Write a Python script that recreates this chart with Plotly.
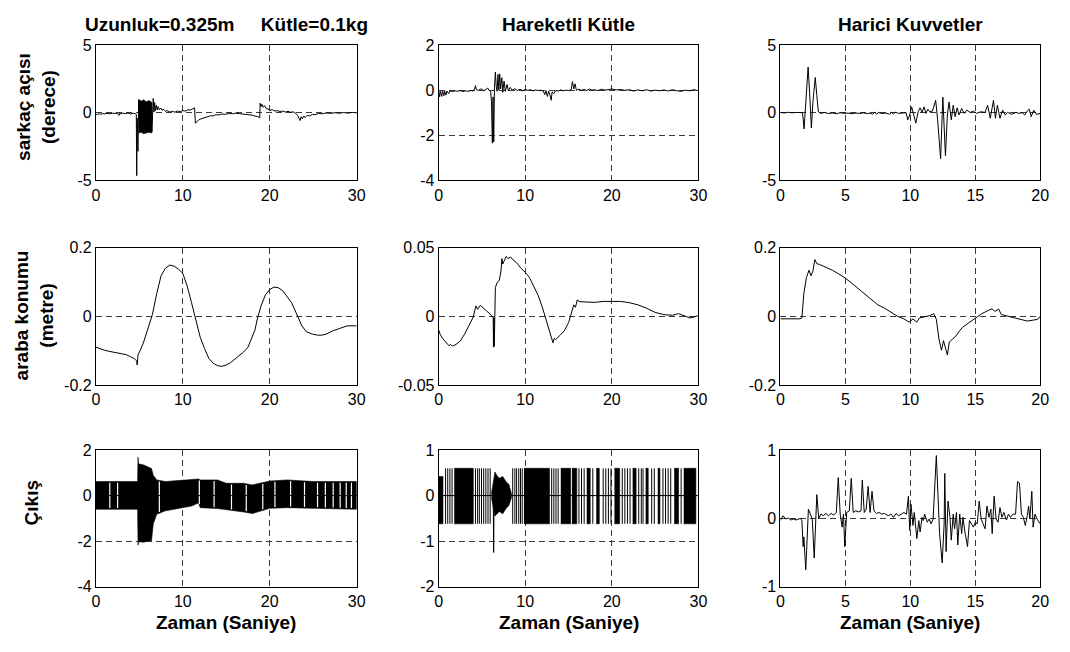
import numpy as np
import plotly.graph_objects as go

W, H = 1070, 652

# ---------------- row 1: sarkaç açısı (derece) ----------------
ang1_t = [0.0, 0.2, 0.4, 0.6, 0.8, 1.0, 1.3, 1.6, 1.9, 2.2, 2.5, 2.65, 2.75, 2.9, 3.1, 3.4, 3.7,
          4.0, 4.3, 4.55, 4.65, 4.70, 4.74, 4.80, 4.84, 4.88, 4.92,
          6.45, 6.50, 6.60, 6.68, 6.76, 6.85, 6.95, 7.05, 7.15, 7.30, 7.45, 7.60, 7.80,
          8.0, 8.2, 8.5, 8.8, 9.1, 9.4, 9.7, 10.0, 10.3, 10.6, 10.9, 11.2, 11.35, 11.45,
          11.6, 11.8, 12.0, 12.3, 12.6, 12.9, 13.2, 13.5, 13.8, 14.1, 14.5, 14.9, 15.3,
          15.7, 16.1, 16.5, 16.9, 17.3, 17.7, 18.0, 18.3, 18.6, 18.85, 18.9, 19.0, 19.1,
          19.25, 19.4, 19.6, 19.8, 20.0, 20.3, 20.6, 20.9, 21.2, 21.5, 21.8, 22.1, 22.4,
          22.7, 23.0, 23.2, 23.4, 23.5, 23.6, 23.75, 23.9, 24.1, 24.3, 24.6, 24.9, 25.2,
          25.6, 26.0, 26.5, 27.0, 27.5, 28.0, 28.5, 29.0, 29.5, 30.0]
ang1_v = [-0.10, -0.14, -0.08, -0.11, -0.06, -0.09, -0.05, -0.08, -0.04, -0.07, -0.05, -0.20, -0.02,
          -0.10, -0.03, -0.07, -0.02, -0.09, -0.04, -0.08, -0.12, -4.65, -0.40, -1.20, -2.85, 0.20, 0.95,
          -1.40, -0.20, 1.05, 0.05, 0.75, 0.15, 0.55, 0.20, 0.45, 0.22, 0.35, 0.18, 0.25,
          0.10, 0.15, 0.05, 0.10, 0.04, 0.12, 0.08, 0.15, 0.12, 0.22, 0.20, 0.32, 0.36, -0.78,
          -0.65, -0.55, -0.48, -0.42, -0.32, -0.30, -0.22, -0.24, -0.15, -0.17, -0.10, -0.12, -0.06,
          -0.08, -0.04, -0.07, -0.10, -0.08, -0.15, -0.18, -0.25, -0.28, -0.38, 0.70, 0.45, 0.62,
          0.40, 0.52, 0.30, 0.28, 0.18, 0.22, 0.12, 0.15, 0.08, 0.12, 0.05, 0.10, 0.03,
          0.06, -0.05, -0.20, -0.45, -0.58, -0.30, -0.45, -0.25, -0.35, -0.20, -0.24, -0.12, -0.15,
          -0.06, -0.08, -0.02, -0.05, 0.00, -0.04, 0.01, -0.03, 0.02, -0.01]
# chattering interval: upper / lower envelope
ang1_band_t = [4.92, 5.2, 5.5, 5.8, 6.1, 6.45]
ang1_band_hi = [1.00, 0.85, 0.95, 0.80, 0.90, 0.75]
ang1_band_lo = [-1.50, -1.45, -1.55, -1.50, -1.45, -1.50]

ang2_t = [0.0, 0.1, 0.2, 0.35, 0.45, 0.6, 0.7, 0.85, 0.95, 1.15, 1.3, 1.6, 1.9, 2.2, 2.5, 2.8, 3.1,
          3.4, 3.7, 4.0, 4.15, 4.25, 4.35, 4.6, 4.9, 5.2, 5.5, 5.65, 5.8, 6.0, 6.1, 6.2, 6.28,
          6.36, 6.44, 6.55, 6.65, 6.75, 6.85, 6.95, 7.05, 7.15, 7.3, 7.4, 7.55, 7.7, 7.9, 8.05,
          8.25, 8.5, 8.8, 9.1, 9.4, 9.7, 10.0, 10.3, 10.6, 10.9, 11.2, 11.5, 11.8, 12.1, 12.25,
          12.4, 12.55, 12.7, 12.85, 13.0, 13.1, 13.3, 13.5, 13.8, 14.1, 14.4, 14.7, 15.0, 15.3,
          15.45, 15.6, 15.75, 15.9, 16.2, 16.5, 16.8, 17.1, 17.4, 17.7, 18.0, 18.4, 18.8, 19.2,
          19.6, 20.0, 20.5, 21.0, 21.5, 22.0, 22.5, 23.0, 23.5, 24.0, 24.5, 25.0, 25.5, 26.0,
          26.5, 27.0, 27.5, 28.0, 28.5, 29.0, 29.5, 30.0]
ang2_v = [0.00, -0.30, -0.05, -0.28, -0.04, -0.25, -0.05, -0.22, -0.04, -0.15, -0.03, -0.06, -0.03,
          -0.05, -0.02, -0.06, -0.03, -0.05, -0.02, -0.04, 0.05, 0.20, 0.02, -0.01, 0.06, -0.02, 0.03,
          0.10, 0.00, -0.05, -0.50, -2.35, -0.30, -2.30, 0.10, 0.80, 0.15, -0.05, 0.70, 0.00, 0.72,
          0.05, 0.55, -0.10, 0.40, -0.05, 0.25, -0.03, 0.12, 0.00, 0.06, -0.02, 0.04, -0.03, 0.03,
          -0.01, 0.02, -0.03, 0.01, -0.02, 0.00, -0.05, -0.20, -0.02, -0.28, -0.05, -0.22, -0.45,
          -0.08, -0.15, -0.02, -0.04, 0.01, -0.03, 0.00, -0.02, 0.01, 0.38, 0.05, 0.28, 0.00, 0.04,
          -0.01, 0.03, -0.02, 0.05, 0.00, 0.02, -0.02, 0.04, 0.00, 0.03, 0.05, 0.01, 0.03, -0.01,
          0.02, -0.04, 0.01, -0.03, 0.02, -0.04, 0.00, -0.03, 0.01, -0.04, 0.02, -0.03, -0.05, 0.00,
          -0.03, 0.02, -0.03]

ang3_t = [0.0, 0.3, 0.6, 0.9, 1.2, 1.5, 1.7, 1.82, 2.0, 2.13, 2.25, 2.38, 2.5, 2.68, 2.8, 2.92,
          3.1, 3.4, 3.7, 4.0, 4.3, 4.6, 4.9, 5.2, 5.5, 5.8, 6.1, 6.4, 6.7, 6.9, 7.1, 7.25, 7.4,
          7.55, 7.8, 8.1, 8.4, 8.55, 8.7, 8.85, 9.1, 9.4, 9.67, 9.8, 9.95, 10.1, 10.25, 10.42,
          10.6, 10.75, 10.9, 11.05, 11.2, 11.35, 11.5, 11.7, 11.95, 12.1, 12.33, 12.5, 12.7,
          12.85, 12.98, 13.15, 13.3, 13.45, 13.6, 13.75, 13.95, 14.15, 14.35, 14.6, 14.85, 15.1,
          15.4, 15.75, 15.95, 16.15, 16.4, 16.55, 16.7, 16.9, 17.1, 17.3, 17.5, 17.8, 18.1, 18.4,
          18.6, 18.8, 19.0, 19.15, 19.3, 19.5, 19.7, 20.0]
ang3_v = [0.02, -0.02, 0.03, -0.01, 0.02, -0.02, 0.00, -1.20, 1.75, 3.37, 1.40, -1.13, 0.80, 2.60,
          1.27, 0.07, -0.05, 0.02, -0.06, -0.02, -0.08, 0.00, -0.05, -0.03, -0.08, -0.02, -0.06,
          -0.01, -0.07, -0.03, -0.12, 0.03, -0.10, 0.02, -0.06, -0.03, -0.11, 0.02, -0.09, 0.03,
          -0.05, -0.02, 0.00, -0.53, -0.17, 0.43, -0.05, -0.77, 0.07, 0.36, 0.02, 0.43, -0.05, 0.26,
          0.07, 0.12, 0.91, -0.53, -3.41, 1.15, -3.17, -0.17, 0.79, -0.53, 0.55, -0.29, 0.36, -0.17,
          0.31, -0.05, 0.19, 0.02, 0.12, -0.05, 0.07, 0.02, 0.55, -0.41, 0.91, -0.41, 0.55, -0.41,
          0.19, -0.17, 0.02, -0.12, 0.02, -0.05, 0.01, -0.17, 0.12, 0.26, -0.29, 0.19, -0.12, -0.05]

# ---------------- row 2: araba konumu (metre) ----------------
pos1_t = [0, 0.5, 1, 1.5, 2, 2.5, 3, 3.5, 4, 4.4, 4.7, 4.75, 4.85, 5.1, 5.5, 6.0, 6.5, 7.0, 7.5,
          8.0, 8.5, 9.0, 9.5, 10.0, 10.5, 11.0, 11.5, 12.0, 12.5, 13.0, 13.5, 14.0, 14.5, 15.0,
          15.5, 16.0, 16.5, 17.0, 17.5, 18.0, 18.3, 18.6, 19.0, 19.5, 20.0, 20.5, 21.0, 21.5,
          22.0, 22.5, 23.0, 23.3, 23.7, 24.2, 24.9, 25.5, 26.0, 26.5, 27.3, 28.0, 28.9, 30.0]
pos1_v = [-0.090, -0.095, -0.099, -0.102, -0.104, -0.106, -0.108, -0.112, -0.118, -0.123, -0.130,
          -0.142, -0.112, -0.100, -0.075, -0.035, 0.005, 0.066, 0.118, 0.140, 0.149, 0.146, 0.137,
          0.125, 0.088, 0.040, -0.009, -0.061, -0.094, -0.123, -0.137, -0.144, -0.146, -0.142,
          -0.135, -0.125, -0.115, -0.104, -0.090, -0.060, -0.040, -0.005, 0.030, 0.062, 0.078,
          0.085, 0.083, 0.074, 0.058, 0.040, 0.012, -0.005, -0.028, -0.045, -0.052, -0.055, -0.055,
          -0.052, -0.042, -0.036, -0.028, -0.028]

pos2_t = [0.0, 0.2, 0.5, 0.8, 1.0, 1.2, 1.4, 1.6, 2.0, 2.5, 3.0, 3.5, 4.0, 4.3, 4.5, 4.8, 5.2,
          5.6, 6.0, 6.3, 6.33, 6.38, 6.42, 6.46, 6.55, 6.8, 7.0, 7.2, 7.3, 7.4, 7.6, 7.8, 8.0,
          8.3, 8.6, 9.0, 9.5, 10.0, 10.5, 11.0, 11.5, 12.0, 12.5, 12.8, 13.0, 13.2, 13.35, 13.5,
          14.0, 14.5, 15.0, 15.3, 15.6, 15.8, 16.0, 16.3, 17.0, 18.0, 19.0, 20.0, 21.0, 22.0,
          23.0, 24.0, 25.0, 26.0, 27.0, 27.7, 28.5, 29.0, 29.5, 30.0]
pos2_v = [-0.0100, -0.0135, -0.0165, -0.0190, -0.0200, -0.0215, -0.0205, -0.0218, -0.0205, -0.0180,
          -0.0130, -0.0070, -0.0005, 0.0075, 0.0050, 0.0080, 0.0060, 0.0035, 0.0012, -0.0012,
          -0.0225, -0.0010, -0.0220, 0.0000, 0.0210, 0.0250, 0.0260, 0.0330, 0.0420, 0.0380,
          0.0410, 0.0436, 0.0420, 0.0432, 0.0410, 0.0390, 0.0350, 0.0320, 0.0280, 0.0220, 0.0150,
          0.0060, -0.0047, -0.0106, -0.0153, -0.0193, -0.0160, -0.0170, -0.0140, -0.0106, -0.0047,
          0.0024, 0.0083, 0.0065, 0.0118, 0.0106, 0.0105, 0.0101, 0.0108, 0.0106, 0.0108, 0.0099,
          0.0083, 0.0059, 0.0028, 0.0012, 0.0007, 0.0019, 0.0000, -0.0012, -0.0005, 0.0005]

pos3_t = [0.0, 1.5, 1.65, 1.8, 2.0, 2.2, 2.35, 2.5, 2.65, 2.8, 3.0, 3.5, 4.0, 4.5, 5.0, 5.5, 6.0,
          6.5, 7.0, 7.5, 8.0, 8.5, 9.0, 9.5, 9.9, 10.2, 10.5, 10.7, 11.0, 11.5, 11.8, 12.0, 12.2,
          12.4, 12.55, 12.7, 12.85, 13.0, 13.2, 13.5, 13.8, 14.0, 14.5, 15.0, 15.5, 16.0, 16.3,
          16.5, 16.8, 17.0, 17.5, 18.0, 18.5, 19.0, 19.5, 19.8, 20.0]
pos3_v = [-0.0075, -0.0075, -0.005, 0.066, 0.113, 0.134, 0.118, 0.132, 0.165, 0.153, 0.151, 0.143,
          0.134, 0.123, 0.111, 0.096, 0.080, 0.064, 0.047, 0.033, 0.024, 0.011, 0.000, -0.0075,
          -0.017, -0.008, -0.017, -0.005, -0.002, 0.002, 0.0075, -0.009, -0.066, -0.099, -0.071,
          -0.094, -0.113, -0.075, -0.068, -0.058, -0.042, -0.033, -0.019, -0.005, 0.0075, 0.017,
          0.0217, 0.014, 0.021, 0.005, 0.000, -0.004, -0.0094, -0.014, -0.011, -0.009, 0.000]

# ---------------- row 3: çıkış ----------------
# column 1: switching band (upper / lower envelope) with rest intervals at zero
out1_t = [0, 4.8, 4.85, 4.9, 5.5, 6.0, 6.4, 6.6, 7.0, 8.0, 10.0, 11.0, 11.8, 12.0, 14.0, 15.0,
          17.0, 18.0, 19.0, 20.0, 22.0, 25.0, 30.0]
out1_hi = [0.62, 0.62, 1.69, 1.40, 1.35, 1.25, 1.19, 0.90, 0.69, 0.62, 0.69, 0.73, 0.73, 0.69,
           0.69, 0.54, 0.54, 0.47, 0.54, 0.64, 0.69, 0.62, 0.62]
out1_lo = [-0.60, -0.60, -2.18, -2.03, -2.05, -2.00, -1.99, -1.25, -0.82, -0.67, -0.53, -0.46,
           -0.32, -0.53, -0.57, -0.64, -0.72, -0.79, -0.67, -0.56, -0.53, -0.56, -0.60]
out1_rest = [1.6, 2.5, 7.3, 11.9, 13.6, 15.6, 17.3, 19.2, 20.6, 22.4, 24.0, 25.5, 26.4, 27.3,
             28.1, 28.8, 29.4]

# column 2: switching blocks, single switches and the disturbance interval
out2_block_start = [0.0, 1.8, 9.85, 14.1, 15.4, 17.1, 18.2, 20.3, 22.4, 23.9, 25.3, 27.2, 28.3]
out2_block_end = [0.5, 4.0, 12.8, 15.25, 15.95, 17.5, 18.55, 20.9, 22.8, 24.2, 25.55, 27.7, 29.7]
out2_hi = 0.60
out2_lo = -0.62
out2_switch = [0.8, 1.05, 1.3, 1.55, 4.25, 4.5, 4.7, 4.95, 5.2, 5.45, 5.7, 5.95, 8.55, 8.8,
               9.0, 9.25, 9.45, 9.65, 13.05, 13.3, 13.55, 13.8, 16.2, 16.5, 16.8, 17.8, 19.0,
               19.3, 19.6, 19.9, 21.2, 21.5, 21.8, 22.1, 23.1, 23.4, 23.6, 24.6, 24.9, 25.9,
               26.2, 26.5, 26.8, 28.0]
out2_dist_t = [6.1, 6.5, 6.7, 7.0, 7.4, 7.8, 8.1, 8.4]
out2_dist_hi = [0.05, 0.52, 0.45, 0.38, 0.42, 0.30, 0.25, 0.05]
out2_dist_lo = [-0.05, -0.45, -0.40, -0.35, -0.40, -0.28, -0.22, -0.05]
out2_kick_t = [6.30, 6.35, 6.40]
out2_kick_v = [0.10, -1.25, 0.05]

out3_t = [0.0, 0.2, 0.4, 0.6, 0.8, 1.0, 1.2, 1.4, 1.55, 1.65, 1.75, 1.8, 1.95, 2.05, 2.15, 2.3,
          2.45, 2.6, 2.7, 2.8, 2.95, 3.1, 3.3, 3.5, 3.7, 3.9, 4.1, 4.3, 4.45, 4.6, 4.75, 4.85,
          4.95, 5.1, 5.3, 5.45, 5.6, 5.8, 6.0, 6.2, 6.3, 6.45, 6.6, 6.75, 6.9, 7.05, 7.2, 7.4,
          7.6, 7.8, 8.0, 8.3, 8.5, 8.7, 8.9, 9.1, 9.3, 9.5, 9.7, 9.85, 9.95, 10.05, 10.2, 10.3,
          10.5, 10.65, 10.75, 10.9, 11.0, 11.1, 11.3, 11.45, 11.6, 11.75, 12.0, 12.25, 12.45,
          12.6, 12.65, 12.75, 12.9, 13.05, 13.15, 13.3, 13.4, 13.55, 13.65, 13.8, 13.95, 14.05,
          14.2, 14.4, 14.55, 14.7, 14.85, 15.0, 15.15, 15.3, 15.45, 15.6, 15.75, 15.9, 16.05,
          16.2, 16.3, 16.45, 16.6, 16.75, 16.9, 17.05, 17.2, 17.4, 17.55, 17.7, 17.9, 18.1,
          18.25, 18.4, 18.55, 18.7, 18.85, 19.0, 19.1, 19.2, 19.35, 19.45, 19.6, 19.75, 19.9, 20.0]
out3_v = [-0.033, 0.038, -0.010, 0.005, -0.024, -0.010, -0.024, -0.010, 0.000, -0.033, -0.415,
          -0.272, -0.754, -0.320, 0.134, 0.062, -0.010, -0.582, -0.081, 0.348, -0.010, 0.062, 0.038,
          0.072, 0.038, 0.072, 0.048, 0.086, 0.597, 0.062, -0.129, 0.062, -0.415, 0.086, 0.110,
          0.587, 0.086, 0.110, 0.095, 0.110, 0.563, 0.086, 0.134, 0.468, 0.086, 0.396, 0.110, 0.072,
          0.086, 0.062, 0.072, 0.038, 0.062, 0.014, 0.072, 0.038, 0.062, 0.086, 0.062, 0.325,
          -0.177, 0.205, -0.105, 0.086, -0.296, -0.033, -0.200, 0.014, -0.033, 0.062, -0.057,
          -0.010, -0.081, -0.010, 0.921, -0.224, -0.654, -0.081, 0.659, -0.487, 0.253, 0.014,
          -0.320, 0.062, -0.153, 0.086, -0.391, 0.062, -0.224, 0.014, -0.200, -0.415, -0.033,
          -0.081, -0.129, -0.057, -0.081, 0.253, -0.010, -0.081, -0.153, 0.181, 0.014, 0.134,
          -0.224, 0.325, -0.010, -0.057, 0.158, 0.014, 0.086, -0.024, 0.062, 0.014, 0.062, 0.062,
          0.539, 0.516, 0.062, 0.014, -0.105, 0.038, 0.181, -0.010, 0.396, -0.129, 0.062, -0.010,
          -0.057, -0.081]

# ---------------- axes ----------------
col_titles = ["Uzunluk=0.325m\u00a0\u00a0\u00a0\u00a0\u00a0Kütle=0.1kg", "Hareketli Kütle", "Harici Kuvvetler"]
row_labels = ["sarkaç açısı<br>(derece)", "araba konumu<br>(metre)", "Çıkış"]
x_label = "Zaman (Saniye)"

x_ranges = [[0, 30], [0, 30], [0, 20]]
x_ticks = [[0, 10, 20, 30], [0, 10, 20, 30], [0, 5, 10, 15, 20]]
y_ranges = [[[-5, 5], [-4, 2], [-5, 5]],
            [[-0.2, 0.2], [-0.05, 0.05], [-0.2, 0.2]],
            [[-4, 2], [-2, 1], [-1, 1]]]
y_ticks = [[[-5, 0, 5], [-4, -2, 0, 2], [-5, 0, 5]],
           [[-0.2, 0, 0.2], [-0.05, 0, 0.05], [-0.2, 0, 0.2]],
           [[-4, -2, 0, 2], [-2, -1, 0, 1], [-1, 0, 1]]]

col_px = [(93, 357), (440, 703), (786, 1049)]
row_px = [(38, 177), (246, 387), (454, 594)]

FONT = "Liberation Sans, Arial, Helvetica, sans-serif"
INK = "black"
GRID = "#3a3a3a"


def fmt(v):
    return "%g" % v


fig = go.Figure()
layout = {}
for r in range(3):
    for c in range(3):
        k = r * 3 + c + 1
        sx = "" if k == 1 else str(k)
        layout["xaxis" + sx] = dict(
            domain=[col_px[c][0] / W, col_px[c][1] / W], anchor="y" + sx,
            range=x_ranges[c], tickvals=x_ticks[c], ticktext=[fmt(v) for v in x_ticks[c]],
            showgrid=True, gridcolor=GRID, griddash="6px,4px", gridwidth=1,
            zeroline=False, showline=True, mirror=True, linecolor=INK, linewidth=1,
            ticks="", tickfont=dict(family=FONT, size=16, color=INK), fixedrange=True)
        layout["yaxis" + sx] = dict(
            domain=[1 - row_px[r][1] / H, 1 - row_px[r][0] / H], anchor="x" + sx,
            range=y_ranges[r][c], tickvals=y_ticks[r][c],
            ticktext=[fmt(v) for v in y_ticks[r][c]],
            showgrid=True, gridcolor=GRID, griddash="6px,4px", gridwidth=1,
            zeroline=False, showline=True, mirror=True, linecolor=INK, linewidth=1,
            ticks="", tickfont=dict(family=FONT, size=16, color=INK), fixedrange=True)


def axref(r, c):
    k = r * 3 + c + 1
    sx = "" if k == 1 else str(k)
    return "x" + sx, "y" + sx


def line(r, c, x, y, width=1.0, color=INK):
    xa, ya = axref(r, c)
    fig.add_trace(go.Scatter(x=x, y=y, mode="lines", xaxis=xa, yaxis=ya,
                             line=dict(color=color, width=width), showlegend=False,
                             hoverinfo="skip"))


def band(r, c, t, hi, lo):
    xa, ya = axref(r, c)
    fig.add_trace(go.Scatter(x=list(t) + list(t)[::-1], y=list(hi) + list(lo)[::-1],
                             mode="lines", fill="toself", fillcolor=INK,
                             line=dict(color=INK, width=0.6), xaxis=xa, yaxis=ya,
                             showlegend=False, hoverinfo="skip"))


# row 1
band(0, 0, ang1_band_t, ang1_band_hi, ang1_band_lo)
line(0, 0, ang1_t, ang1_v)
line(0, 1, ang2_t, ang2_v)
line(0, 2, ang3_t, ang3_v)

# row 2
line(1, 0, pos1_t, pos1_v)
line(1, 1, pos2_t, pos2_v)
line(1, 2, pos3_t, pos3_v)

# row 3, column 1
band(2, 0, out1_t, out1_hi, out1_lo)
gx, gy = [], []
for g in out1_rest:
    gx += [g, g, None]
    gy += [float(np.interp(g, out1_t, out1_lo)) + 0.05, float(np.interp(g, out1_t, out1_hi)) - 0.05, None]
line(2, 0, gx, gy, width=1.2, color="white")
line(2, 0, [0, 30], [0, 0])

# row 3, column 2
line(2, 1, [0, 30], [0, 0])
for a, b in zip(out2_block_start, out2_block_end):
    hi = 0.42 if a == 0.0 else out2_hi
    band(2, 1, [a, b], [hi, hi], [out2_lo, out2_lo])
sx_, sy_ = [], []
for s in out2_switch:
    sx_ += [s, s, None]
    sy_ += [out2_lo, out2_hi, None]
line(2, 1, sx_, sy_, width=1.0)
band(2, 1, out2_dist_t, out2_dist_hi, out2_dist_lo)
line(2, 1, out2_kick_t, out2_kick_v)

# row 3, column 3
line(2, 2, out3_t, out3_v)

# ---------------- text ----------------
ann = []
for c in range(3):
    cx = (col_px[c][0] + col_px[c][1]) / 2 / W
    ann.append(dict(text="<b>%s</b>" % col_titles[c], x=cx, y=1 - 17 / H,
                    xref="paper", yref="paper", showarrow=False, xanchor="center",
                    yanchor="middle", font=dict(family=FONT, size=19, color=INK)))
    ann.append(dict(text="<b>%s</b>" % x_label, x=cx,
                    y=1 - 631 / H, xref="paper", yref="paper", showarrow=False,
                    xanchor="center", yanchor="middle",
                    font=dict(family=FONT, size=19, color=INK)))
label_pos = [(33, 102), (30, 316), (28, 508)]
for r in range(3):
    ann.append(dict(text="<b>%s</b>" % row_labels[r], x=label_pos[r][0] / W,
                    y=1 - label_pos[r][1] / H, xref="paper", yref="paper", showarrow=False,
                    xanchor="center", yanchor="middle", textangle=-90,
                    font=dict(family=FONT, size=19, color=INK)))

fig.update_layout(width=W, height=H, margin=dict(l=0, r=0, t=0, b=0),
                  paper_bgcolor="white", plot_bgcolor="white", showlegend=False,
                  annotations=ann, **layout)
fig.write_html("out.html", config={"displayModeBar": False})
